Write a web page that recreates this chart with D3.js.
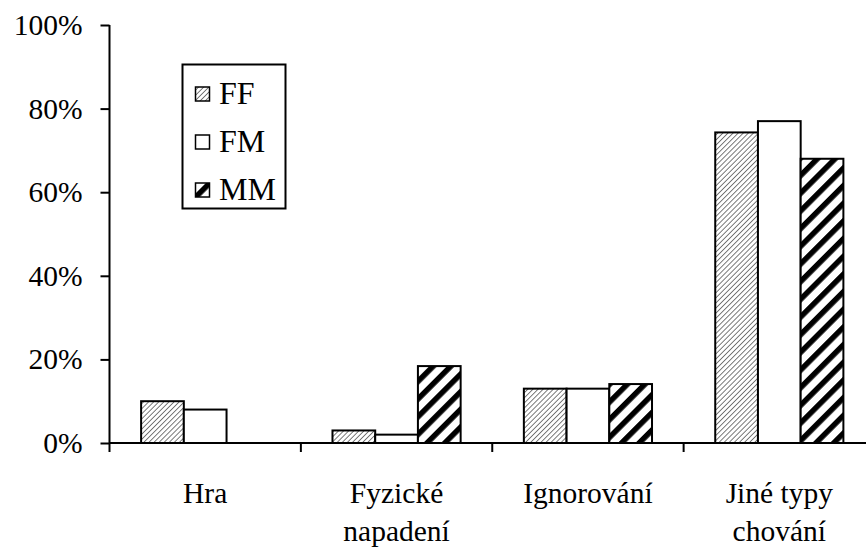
<!DOCTYPE html>
<html><head><meta charset="utf-8">
<script src="https://cdn.jsdelivr.net/npm/d3@7"></script>
<style>body{margin:0;background:#fff}svg{display:block}text{font-family:"Liberation Serif","Times New Roman",serif;fill:#000}</style>
</head><body>
<svg id="c" width="866" height="551"></svg>
<script>
const categories = [["Hra"], ["Fyzické", "napadení"], ["Ignorování"], ["Jiné typy", "chování"]];
const series = ["FF", "FM", "MM"];
const valuesFF = [0.10, 0.03, 0.13, 0.743];
const valuesFM = [0.08, 0.02, 0.13, 0.77];
const valuesMM = [0.00, 0.184, 0.141, 0.68];
const yTicks = [0, 0.2, 0.4, 0.6, 0.8, 1.0];
const yTickLabels = ["0%", "20%", "40%", "60%", "80%", "100%"];

const seriesValues = {FF: valuesFF, FM: valuesFM, MM: valuesMM};
const svg = d3.select("#c");
const defs = svg.append("defs");

// patterns
const pFF = defs.append("pattern").attr("id","pFF").attr("patternUnits","userSpaceOnUse")
  .attr("width",3.6).attr("height",3.6).attr("patternTransform","rotate(45)");
pFF.append("rect").attr("width",3.6).attr("height",3.6).attr("fill","#fff");
pFF.append("line").attr("x1",0).attr("y1",0).attr("x2",0).attr("y2",3.6).attr("stroke","#5a5a5a").attr("stroke-width",1.6);
const pMM = defs.append("pattern").attr("id","pMM").attr("patternUnits","userSpaceOnUse")
  .attr("width",12.5).attr("height",12.5).attr("patternTransform","rotate(45)");
pMM.append("rect").attr("width",12.5).attr("height",12.5).attr("fill","#fff");
pMM.append("rect").attr("x",0).attr("y",0).attr("width",5.5).attr("height",12.5).attr("fill","#000");
const fills = {FF:"url(#pFF)", FM:"#fff", MM:"url(#pMM)"};

const catKeys = categories.map(c => c.join(" "));
const x0 = d3.scaleBand().domain(catKeys).range([109.5, 875]).paddingInner(0).paddingOuter(0);
const x1 = d3.scaleBand().domain(series).range([0, x0.bandwidth()]).paddingInner(0).paddingOuter(0.74);
const y = d3.scaleLinear().domain([0, 1]).range([443, 25]);

// bars
const g = svg.append("g");
catKeys.forEach((ck, i) => {
  series.forEach(s => {
    const v = seriesValues[s][i];
    if (v <= 0) return;
    g.append("rect")
      .attr("x", x0(ck) + x1(s))
      .attr("y", y(v))
      .attr("width", x1.bandwidth())
      .attr("height", y(0) - y(v))
      .attr("fill", fills[s])
      .attr("stroke", "#000").attr("stroke-width", 2);
  });
});

// y axis
const yAxis = d3.axisLeft(y).tickValues(yTicks).tickFormat((d,i) => yTickLabels[i]).tickSize(9).tickPadding(18);
const ya = svg.append("g").attr("transform","translate(109.5,0)").call(yAxis);
ya.select(".domain").attr("stroke","#000").attr("stroke-width",2).attr("d","M0,25V443");
ya.selectAll(".tick line").attr("stroke","#000").attr("stroke-width",2);
ya.selectAll(".tick text").attr("font-size",29.5).attr("fill","#000");

// x axis
const xa = svg.append("g").attr("transform","translate(0,443)");
xa.append("line").attr("x1",109.5).attr("x2",875).attr("y1",0).attr("y2",0).attr("stroke","#000").attr("stroke-width",2);
const bounds = catKeys.map(k => x0(k)).concat([x0.range()[1]]);
xa.selectAll("line.t").data(bounds).join("line").attr("class","t")
  .attr("x1",d=>d).attr("x2",d=>d).attr("y1",0).attr("y2",9).attr("stroke","#000").attr("stroke-width",2);
categories.forEach((lines, i) => {
  const cx = x0(catKeys[i]) + x0.bandwidth()/2;
  lines.forEach((ln, j) => {
    xa.append("text").attr("x", cx).attr("y", 60 + j*38).attr("text-anchor","middle")
      .attr("font-size",29.5).text(ln);
  });
});

// legend
const lg = svg.append("g");
lg.append("rect").attr("x",182.5).attr("y",64.5).attr("width",103).attr("height",144)
  .attr("fill","#fff").attr("stroke","#000").attr("stroke-width",2);
series.forEach((s, i) => {
  const base = 104 + i*48;
  lg.append("rect").attr("x",195.5).attr("y",base-17).attr("width",14).attr("height",14)
    .attr("fill",fills[s]).attr("stroke","#000").attr("stroke-width",1.5);
  lg.append("text").attr("x",219).attr("y",base).attr("font-size",32).text(s);
});
</script>
</body></html>
